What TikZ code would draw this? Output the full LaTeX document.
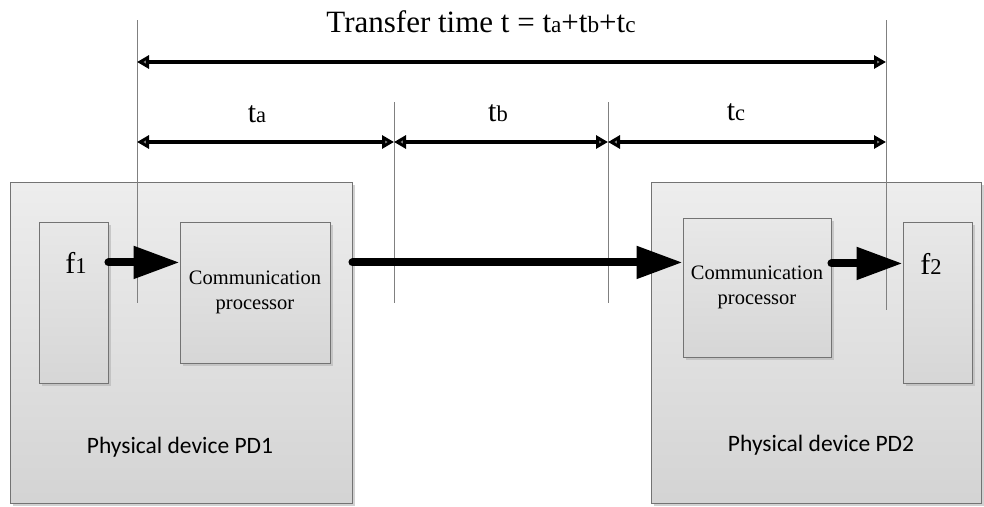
\documentclass[tikz,border=0pt]{standalone}
\usepackage{fontspec}
\usepackage{graphicx}
\setmainfont{Liberation Serif}
\newfontfamily\calfont{Carlito}
\usetikzlibrary{arrows.meta,shadows}
\newcommand{\idx}[1]{\scalebox{0.75}{#1}}
\begin{document}
\begin{tikzpicture}[x=1pt,y=-1pt,
  device/.style={rectangle, inner sep=0pt, draw=black!55, line width=0.9pt,
    top color=black!7, bottom color=black!17,
    drop shadow={shadow xshift=2.5pt, shadow yshift=-2.5pt, fill=black!30, opacity=0.6}},
  unit/.style={device, top color=black!9, bottom color=black!16},
  guide/.style={draw=black!50, line width=0.8pt},
  dim/.style={line width=3.4pt, {Triangle[length=12pt, width=13pt, fill=black!50]}-{Triangle[length=12pt, width=13pt, fill=black!50]}},
  flow/.style={line width=8pt, line cap=round, -{Triangle[length=46pt, width=31pt]}},
  lbl/.style={font=\fontsize{30}{34}\selectfont, anchor=base, inner sep=0pt},
  cptext/.style={font=\fontsize{20.5}{25}\selectfont, align=center},
  pdtext/.style={font=\calfont\fontsize{23.5}{28}\selectfont, anchor=base, inner sep=0pt}]
\useasboundingbox (0,0) rectangle (984,506);

% physical devices
\node[device, minimum width=342pt, minimum height=321pt] (pda) at (181,342.5) {};
\node[device, minimum width=330pt, minimum height=321pt] (pdb) at (816,342.5) {};
\node[pdtext] (pdla) at (180,453) {Physical device PD1};
\node[pdtext] (pdlb) at (821,451) {Physical device PD2};

% functions and communication processors
\node[unit, minimum width=69pt, minimum height=161pt] (fa) at (73.5,302.5) {};
\node[unit, minimum width=69pt, minimum height=161pt] (fb) at (937.5,302.5) {};
\node[unit, cptext, minimum width=150pt, minimum height=141pt] (cpa) at (255,292.5) {Communication\\processor};
\node[unit, cptext, minimum width=148pt, minimum height=139pt] (cpb) at (757,287.5) {Communication\\processor};
\node[lbl] (la) at (76,273) {f\idx{1}};
\node[lbl] (lb) at (931,274) {f\idx{2}};

% guide lines
\coordinate (ga1) at (137,20);  \coordinate (ga2) at (137,303);
\coordinate (gb1) at (394,102); \coordinate (gb2) at (394,303);
\coordinate (gc1) at (608,102); \coordinate (gc2) at (608,303);
\coordinate (gd1) at (886,20);  \coordinate (gd2) at (886,310);
\draw[guide] (ga1) -- (ga2);
\draw[guide] (gb1) -- (gb2);
\draw[guide] (gc1) -- (gc2);
\draw[guide] (gd1) -- (gd2);

% time spans
\coordinate (tot1) at (137,62); \coordinate (tot2) at (886,62);
\coordinate (m1) at (137,142); \coordinate (m2) at (394,142);
\coordinate (m3) at (608,142); \coordinate (m4) at (886,142);
\draw[dim] (tot1) -- (tot2);
\draw[dim] (m1) -- (m2);
\draw[dim] (m2) -- (m3);
\draw[dim] (m3) -- (m4);
\node[lbl, font=\fontsize{31}{34}\selectfont] (title) at (481,32) {Transfer time t = t\idx{a}+t\idx{b}+t\idx{c}};
\node[lbl] (ta) at (257,122) {t\idx{a}};
\node[lbl] (tb) at (498,121) {t\idx{b}};
\node[lbl] (tc) at (736,120) {t\idx{c}};

% message flow
\draw[flow] (fa.east |- la) -- (cpa.west |- la);
\draw[flow] (pda.east |- la) -- (cpb.west |- la);
\draw[flow] (cpb.east |- lb) -- (fb.west |- lb);
\end{tikzpicture}
\end{document}
